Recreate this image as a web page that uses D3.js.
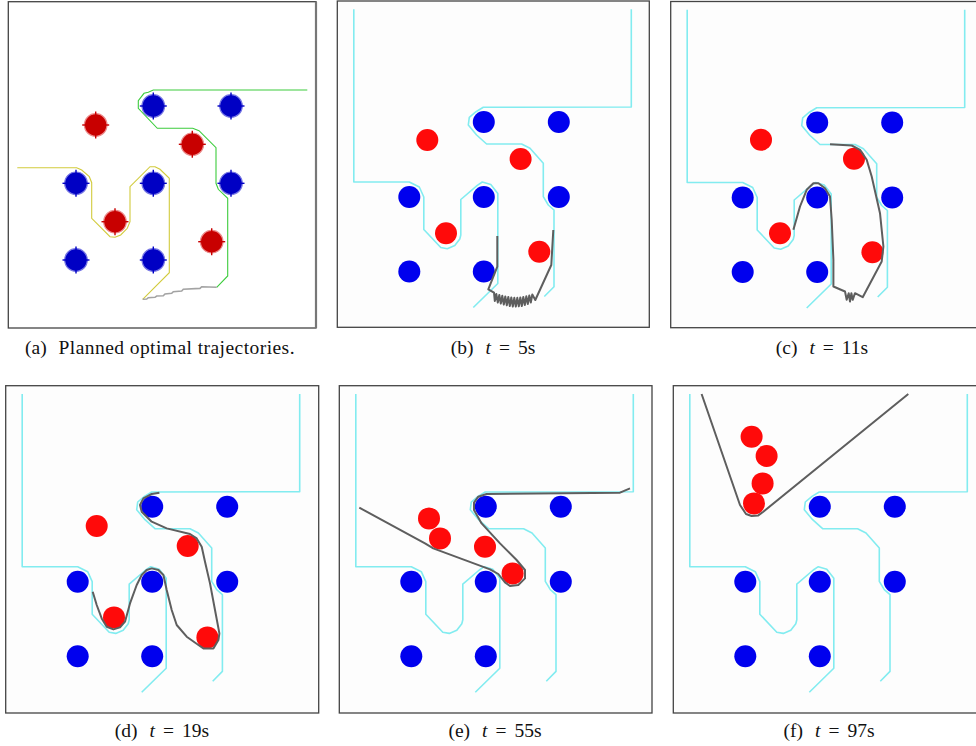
<!DOCTYPE html>
<html>
<head>
<meta charset="utf-8">
<script src="https://cdn.jsdelivr.net/npm/d3@7"></script>
<style>
  body { margin: 0; background: #fff; }
  svg { display: block; }
</style>
</head>
<body>
<div id="fig"></div>
<script>
// ---- panel (a): planner output, pixel units inside its own frame ----
var aBlue = [[145,104.3],[222.7,104.3],[67.7,181.6],[145,181.6],[222.7,181.6],[67.7,258.3],[145,258.3]];
var aRed = [[87.4,123.3],[184,142.6],[106.7,220],[203.4,240]];
var aGreen = [[299,88.3],[145,88.3],[140,90.6],[135.7,91.6],[130,99],[130,106.6],[149,126.6],[184.4,126.6],
  [190.7,129],[207.7,146],[207.7,181.6],[210,187.6],[219.4,196.6],[219.4,274.3],[208.4,285.6]];
var aYellow = [[9,166],[68.4,166],[73.4,168.3],[81,175],[83.4,181],[83.4,216.6],[101.7,235],[106.7,235.6],
  [112.4,233.3],[119,226.6],[121.7,220],[121.7,185],[141.7,165],[146.7,165],[151.7,167.6],[161,176.6],
  [161,271],[134.4,297.6]];
var aGrey = [[208.4,285.6],[193.4,285],[191.7,286.7],[175,287.6],[173.4,289.3],[165,290],[163.4,291.6],
  [156.7,292.3],[155,294],[148.4,294.3],[146.7,295.6],[140,296],[138.4,297.3],[134.4,297.6]];

// ---- panels (b)-(f): same obstacles and planned (cyan) paths ----
var blue = [[146.5,121],[221.5,121],[72,196],[146.5,196],[221.5,196],[72,270.5],[146.5,270.5]];
var cyanLeft = [[16.5,8.3],[16.5,181],[72,181],[82,186],[86.5,196],[86.5,228.5],[103.5,246.5],[110,247.7],
  [117.5,244.5],[122.5,238],[123.5,234],[123.5,198.5],[140,184.3],[145,181],[153.5,183.5],[160.5,192.5],
  [160.5,282.5],[136,306.5]];
var cyanRight = [[294,8.3],[294,106],[146,106.3],[138.7,110.7],[132,116.3],[131,124],[139.3,134],[149.3,143],
  [184.3,143],[192.7,147.3],[206,162.3],[206,195.7],[211,204],[216.7,209],[216.7,285.7],[207,295.5]];

var redB = [[90,139],[183.3,158],[108.7,232.3],[202,250.7]];
var redC = [[90.3,138.3],[183.3,157.3],[109.3,231.7],[201.7,250.7]];
var redD = [[91,140.3],[182,160.3],[108.3,231.7],[201.7,251.7]];
var redE = [[89.7,132.7],[100.7,152.7],[145.7,161],[173.3,187.7]];
var redF = [[78.3,51],[93.3,70.3],[89.3,97.7],[80.7,117.7]];

// executed (gray) trajectories
var grayB = [[160,235],[160,265.7],[151,288.3],[156.7,291.7],
  [157.5,300],[159,293],[160.5,301.5],[162,294],[163.5,302.5],[165,294.8],[166.5,303.5],[168,295.5],
  [169.5,304.3],[171,296],[172.5,305],[174,296.5],[175.5,305.5],[177,296.8],[178.5,305.5],[180,296.8],
  [181.5,305.3],[183,296.5],[184.5,305],[186,296],[187.5,304],[189,295.3],[190.5,303],[192,294.5],
  [193.5,301.5],[195,293.5],[198,299],[214,264],[216,229]];
var grayC = [[159.3,142.7],[181,144],[189.3,148.3],[196,158.3],[201,175],[209.3,211.7],[212.7,245],[211,260],
  [192,295.7],[184.3,291.7],[182,298.3],[180.7,291.7],[179.3,300],[178,291.7],[176,298.3],[174.3,290],
  [162.7,285],[162.7,258.3],[161,218.3],[159.3,195],[154.3,186.7],[147.7,181.7],[142.7,181.7],[136,188.3],
  [129.3,205],[122.7,228.3]];
var grayD = [[153.7,107],[146,108.3],[137.7,112.7],[134.3,119.3],[136,126],[146,136],[161,142.7],[184.3,148.3],
  [191,152.7],[196,161],[199.3,176],[204.3,197.7],[209.3,224.3],[213.7,247.7],[212.7,254.3],[207.7,262.7],
  [197.7,262.7],[192.7,259.3],[181,251],[171,239.3],[166,224.3],[161,204.3],[157.7,189.3],[152.7,184.3],
  [146,182.7],[141,184.3],[136,189.3],[131,199.3],[124.3,217.7],[119.3,236],[114.3,241.7],[107.7,243.7],
  [101,241],[96,232.7],[91,219.3],[87,206]];
var grayE = [[290.7,102.7],[280.7,107],[147.3,108.3],[139,111],[134.7,117],[134.7,124.3],[142.3,137.7],
  [160.7,157.7],[177.3,174.3],[185.7,184.3],[185.7,192.7],[179,199.3],[170.7,200.3],[165.7,196.7],
  [159,188.3],[150.7,183.7],[94,162.7],[85.7,157.7],[27.3,126],[20,122]];
var grayF = [[28.3,8.3],[66.7,119.3],[72.7,128.3],[78.3,130.3],[85,129.7],[90,126],[235,8.3]];

// captions
var capLabels = ["(a)", "(b)", "(c)", "(d)", "(e)", "(f)"];
var capTimes = ["", "5", "11", "19", "55", "97"];

// frame placement of each panel
var panels = [
  { left: 8.3,   top: 1.7,   w: 307.7, h: 326.3, capX: 160, capY: 354 },
  { left: 337.3, top: 1,     w: 312,   h: 326.3, capX: 493, capY: 354, red: redB, gray: grayB },
  { left: 670.7, top: 1.5,   w: 312,   h: 326.2, capX: 822, capY: 354, red: redC, gray: grayC },
  { left: 5.7,   top: 385.7, w: 313,   h: 327.3, capX: 162, capY: 737, red: redD, gray: grayD },
  { left: 339.3, top: 385.7, w: 312.7, h: 327.3, capX: 495, capY: 737, red: redE, gray: grayE },
  { left: 673.3, top: 385.7, w: 312,   h: 327.3, capX: 829, capY: 737, red: redF, gray: grayF }
];

var svg = d3.select("#fig").append("svg")
  .attr("width", 976)
  .attr("height", 746);

var serif = "'Liberation Serif', 'Times New Roman', serif";

panels.forEach(function(p, i) {
  var x = d3.scaleLinear().domain([0, p.w]).range([p.left, p.left + p.w]);
  var y = d3.scaleLinear().domain([0, p.h]).range([p.top, p.top + p.h]);
  var line = d3.line().x(d => x(d[0])).y(d => y(d[1]));
  var g = svg.append("g");

  g.append("rect")
    .attr("x", x(0)).attr("y", y(0))
    .attr("width", x(p.w) - x(0)).attr("height", y(p.h) - y(0))
    .attr("fill", i == 0 ? "#ffffff" : "#fdfdfd")
    .attr("stroke", "#444")
    .attr("stroke-width", 1.3);

  if (i == 0) {
    // gray right edge of the planner screenshot
    g.append("line")
      .attr("x1", x(p.w)).attr("x2", x(p.w))
      .attr("y1", y(0)).attr("y2", y(p.h))
      .attr("stroke", "#777").attr("stroke-width", 2.2);

    g.append("path").attr("d", line(aYellow))
      .attr("fill", "none").attr("stroke", "#d2cb3c").attr("stroke-width", 1.1);
    g.append("path").attr("d", line(aGreen))
      .attr("fill", "none").attr("stroke", "#3ccc3c").attr("stroke-width", 1.1);
    g.append("path").attr("d", line(aGrey))
      .attr("fill", "none").attr("stroke", "#a3a3a3").attr("stroke-width", 1.6);

    var blobs = aBlue.map(d => ({ p: d, c: "#0000c4", e: "#7878e4" }))
      .concat(aRed.map(d => ({ p: d, c: "#c80000", e: "#ec8c8c" })));
    blobs.forEach(function(b) {
      var cx = x(b.p[0]), cy = y(b.p[1]);
      g.append("circle").attr("cx", cx).attr("cy", cy).attr("r", 11.3)
        .attr("fill", b.c).attr("stroke", b.e).attr("stroke-width", 1.2);
      [[0,-1],[0,1],[-1,0],[1,0]].forEach(function(t) {
        g.append("line")
          .attr("x1", cx + t[0] * 10).attr("y1", cy + t[1] * 10)
          .attr("x2", cx + t[0] * 13.5).attr("y2", cy + t[1] * 13.5)
          .attr("stroke", b.c).attr("stroke-width", 1.4);
      });
    });

    g.append("text")
      .attr("x", 25).attr("y", p.capY)
      .attr("font-family", serif)
      .attr("font-size", 19.5)
      .attr("fill", "#111")
      .text(capLabels[0]);
    g.append("text")
      .attr("x", 58.5).attr("y", p.capY)
      .attr("font-family", serif)
      .attr("font-size", 19.5)
      .attr("fill", "#111")
      .attr("textLength", 236)
      .attr("lengthAdjust", "spacing")
      .text("Planned optimal trajectories.");
    return;
  }

  [cyanLeft, cyanRight].forEach(function(c) {
    g.append("path").attr("d", line(c))
      .attr("fill", "none").attr("stroke", "#82ecf0").attr("stroke-width", 1.6)
      .attr("stroke-linejoin", "round");
  });

  g.selectAll("circle.blue").data(blue).enter().append("circle")
    .attr("class", "blue")
    .attr("cx", d => x(d[0])).attr("cy", d => y(d[1]))
    .attr("r", 11)
    .attr("fill", "#0000ee");

  g.selectAll("circle.red").data(p.red).enter().append("circle")
    .attr("class", "red")
    .attr("cx", d => x(d[0])).attr("cy", d => y(d[1]))
    .attr("r", 11)
    .attr("fill", "#ff0a0a");

  g.append("path").attr("d", line(p.gray))
    .attr("fill", "none").attr("stroke", "#5e5e5e").attr("stroke-width", 2)
    .attr("stroke-linejoin", "round");

  var cap = g.append("text")
    .attr("x", p.capX).attr("y", p.capY)
    .attr("text-anchor", "middle")
    .attr("font-family", serif)
    .attr("font-size", 19.5)
    .attr("fill", "#111");
  cap.append("tspan").text(capLabels[i]);
  cap.append("tspan").attr("dx", 12).attr("font-style", "italic").text("t");
  cap.append("tspan").attr("dx", 8).text("=");
  cap.append("tspan").attr("dx", 8).text(capTimes[i] + "s");
});
</script>
</body>
</html>
